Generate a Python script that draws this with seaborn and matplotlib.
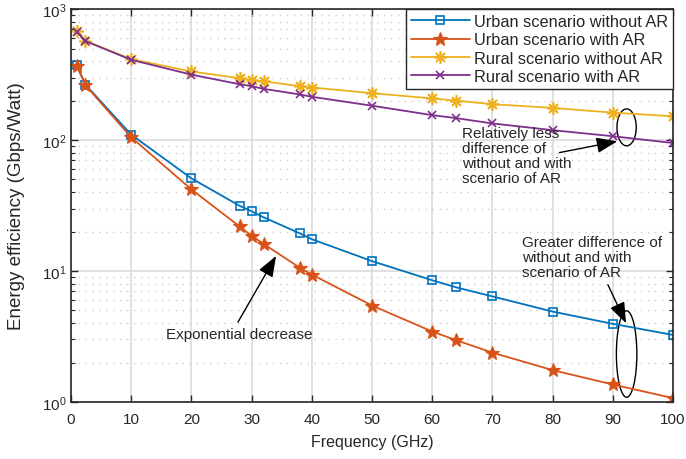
import numpy as np
import pandas as pd
import matplotlib
matplotlib.use('Agg')
import matplotlib.pyplot as plt
import seaborn as sns
from matplotlib.patches import Ellipse
from matplotlib.ticker import LogLocator, NullFormatter

# data
freq = [1, 2.4, 10, 20, 28, 30, 32, 38, 40, 50, 60, 64, 70, 80, 90, 100]
urban_without = [372, 265, 110, 51, 31.5, 28.6, 25.7, 19.4, 17.5, 11.9, 8.5, 7.5, 6.4, 4.9, 3.95, 3.25]
urban_with = [365, 262, 105, 42, 21.9, 18.6, 16.1, 10.6, 9.4, 5.45, 3.45, 2.96, 2.38, 1.75, 1.36, 1.07]
rural_without = [675, 573, 415, 334, 297, 287, 281, 258, 252, 228, 208, 200, 188, 176, 162, 152]
rural_with = [670, 570, 410, 316, 267, 258, 246, 223, 214, 183, 155, 147, 134, 119, 107, 95]

labels = ['Urban scenario without AR', 'Urban scenario with AR',
          'Rural scenario without AR', 'Rural scenario with AR']
colors = ['#0072BD', '#D95319', '#EDB120', '#7E2F8E']

sns.set_style('ticks')
plt.rcParams['font.family'] = ['Liberation Sans', 'DejaVu Sans']
plt.rcParams['mathtext.fontset'] = 'custom'
plt.rcParams['mathtext.rm'] = 'Liberation Sans'

fig = plt.figure(figsize=(6.86, 4.6), dpi=100)
ax = fig.add_axes([0.1035, 0.124, 0.8775, 0.854])

styles = [
    dict(marker='s', markersize=6, markerfacecolor='none', markeredgewidth=1.2),
    dict(marker='*', markersize=10, markeredgewidth=0.8),
    dict(marker=(8, 2, 0), markersize=9, markeredgewidth=1.2),
    dict(marker='x', markersize=6, markeredgewidth=1.2),
]
series = [urban_without, urban_with, rural_without, rural_with]
for vals, lab, col, st in zip(series, labels, colors, styles):
    kw = dict(st)
    kw.setdefault('markerfacecolor', col)
    sns.lineplot(x=freq, y=vals, color=col, label=lab, ax=ax, lw=1.3,
                 markeredgecolor=col, **kw)

ax.set_yscale('log')
ax.set_xlim(0, 100)
ax.set_ylim(1, 1000)
ax.set_xticks(np.arange(0, 101, 10))
ax.yaxis.set_major_locator(LogLocator(base=10, numticks=10))
ax.yaxis.set_minor_locator(LogLocator(base=10, subs=np.arange(2, 10), numticks=20))
ax.yaxis.set_minor_formatter(NullFormatter())

ax.grid(which='major', color='#dcdcdc', lw=1.2, ls='-')
ax.grid(which='minor', axis='y', color='#cdcdcd', lw=1.0, ls=(0, (1, 4)))
ax.set_axisbelow(True)

ax.tick_params(which='both', direction='in', top=True, right=True, colors='#262626',
               labelsize=11)
ax.tick_params(which='major', length=5, width=1.0)
ax.tick_params(axis='x', which='major', pad=7)
ax.tick_params(which='minor', length=3, width=0.8)
for sp in ax.spines.values():
    sp.set_color('#262626')
    sp.set_linewidth(1.2)

ax.set_xlabel('Frequency (GHz)', fontsize=11.5, color='#262626', labelpad=6)
ax.set_ylabel('Energy efficiency (Gbps/Watt)', fontsize=13.5, color='#262626', labelpad=12)

leg = ax.legend(loc='upper right', borderaxespad=0, fontsize=11.8, frameon=True,
                fancybox=False, edgecolor='#262626', handlelength=3.6,
                labelspacing=0.2, borderpad=0.3, handletextpad=0.25)
leg.get_frame().set_linewidth(1.0)
leg.get_frame().set_alpha(1)

# annotations
arrow = dict(arrowstyle='-|>,head_length=0.8,head_width=0.3', color='k', lw=1.0,
             mutation_scale=16)
ax.annotate('', xy=(34.3, 13.6), xytext=(27.5, 3.9), arrowprops=arrow)
ax.text(15.8, 3.3, 'Exponential decrease', fontsize=11, va='center', ha='left')

ax.add_patch(Ellipse((0.923, 0.699), 0.032, 0.094, transform=ax.transAxes,
                     fill=False, ec='k', lw=1.0))
ax.annotate('', xy=(91.2, 98.8), xytext=(80.7, 79.5), arrowprops=arrow)
ax.text(64.9, 128, 'Relatively less\ndifference of\nwithout and with\nscenario of AR',
        fontsize=11, va='top', ha='left', linespacing=1.1)

ax.add_patch(Ellipse((0.923, 0.122), 0.034, 0.22, transform=ax.transAxes,
                     fill=False, ec='k', lw=1.0))
ax.annotate('', xy=(92.4, 3.82), xytext=(89.0, 8.2), arrowprops=arrow)
ax.text(75.0, 19.0, 'Greater difference of\nwithout and with\nscenario of AR',
        fontsize=11, va='top', ha='left', linespacing=1.1)

fig.savefig('out.png', dpi=100)
